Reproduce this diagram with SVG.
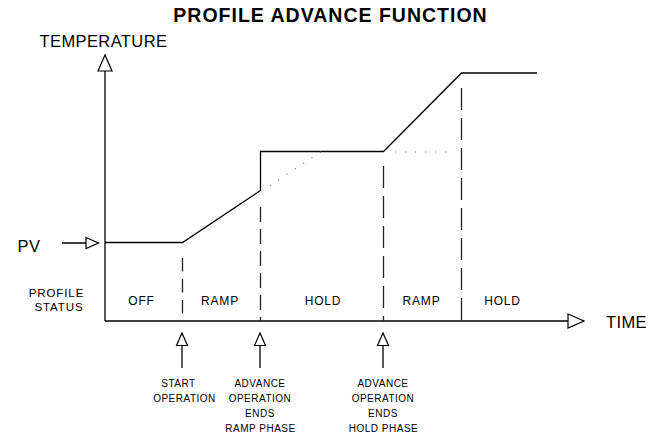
<svg xmlns="http://www.w3.org/2000/svg" width="652" height="439" viewBox="0 0 652 439">
<style>
text{font-family:"Liberation Sans",Arial,sans-serif;fill:#000}
.title{font-size:19.5px;font-weight:bold;letter-spacing:1px}
.axis{font-size:16.5px;letter-spacing:0.4px}
.zone{font-size:12px;letter-spacing:0.8px}
.stat{font-size:11.5px;letter-spacing:0.9px}
.ev{font-size:10px;letter-spacing:0.5px}
.ln{fill:none;stroke:#000;stroke-width:1.3}
.dash{fill:none;stroke:#222;stroke-width:1.3}
.dot{fill:none;stroke:#666;stroke-width:1.2;stroke-dasharray:1 9}
</style>
<defs>
<marker id="big" markerUnits="userSpaceOnUse" viewBox="-1 -1 18 16" markerWidth="18" markerHeight="16" refX="16" refY="7" orient="auto" overflow="visible">
<path d="M0,0 L16,7 L0,14 Z" fill="#fff" stroke="#000" stroke-width="1.2"/>
</marker>
<marker id="small" markerUnits="userSpaceOnUse" viewBox="-1 -1 14 13" markerWidth="14" markerHeight="13" refX="12.5" refY="5.5" orient="auto" overflow="visible">
<path d="M0,0 L12.5,5.5 L0,11 Z" fill="#fff" stroke="#000" stroke-width="1.2"/>
</marker>
</defs>
<rect width="652" height="439" fill="#fff"/>
<g id="title"><text class="title" x="330.5" y="22" text-anchor="middle">PROFILE ADVANCE FUNCTION</text></g>
<g id="connectors">
<line class="ln" x1="105" y1="321" x2="105" y2="55" marker-end="url(#big)"/>
<line class="ln" x1="105" y1="321" x2="584" y2="321" marker-end="url(#big)"/>
<line class="ln" x1="62" y1="243" x2="98.5" y2="243" marker-end="url(#small)"/>
<line class="ln" x1="182" y1="368" x2="182" y2="333" marker-end="url(#small)"/>
<line class="ln" x1="260" y1="368" x2="260" y2="333" marker-end="url(#small)"/>
<line class="ln" x1="383" y1="368" x2="383" y2="333" marker-end="url(#small)"/>
</g>
<g id="profile">
<polyline class="ln" points="105,242.5 182.5,242.5 260.5,190.5 260.5,151.5 383.5,151.5 461.5,73 537,73"/>
<line class="dot" x1="270" y1="185.7" x2="321" y2="151.7"/>
<line class="dot" x1="395" y1="152" x2="447" y2="152"/>
</g>
<g id="phase-lines">
<line class="dash" x1="182.5" y1="258" x2="182.5" y2="321" stroke-dasharray="13.5 7.5"/>
<line class="dash" x1="260.5" y1="207" x2="260.5" y2="321" stroke-dasharray="15 7"/>
<line class="dash" x1="383.5" y1="166" x2="383.5" y2="321" stroke-dasharray="22 8"/>
<line class="dash" x1="461.5" y1="88" x2="461.5" y2="321" stroke-dasharray="22 8"/>
</g>
<g id="axis-labels">
<text class="axis" x="39.5" y="46.5">TEMPERATURE</text>
<text class="axis" x="606" y="327.5">TIME</text>
<text class="axis" x="17.5" y="251.5">PV</text>
</g>
<g id="profile-status">
<text class="stat" x="56.5" y="296.5" text-anchor="middle">PROFILE</text>
<text class="stat" x="59" y="310.5" text-anchor="middle">STATUS</text>
</g>
<g id="zone-off"><text class="zone" x="141.5" y="304.5" text-anchor="middle">OFF</text></g>
<g id="zone-ramp1"><text class="zone" x="220" y="304.5" text-anchor="middle">RAMP</text></g>
<g id="zone-hold1"><text class="zone" x="323" y="304.5" text-anchor="middle">HOLD</text></g>
<g id="zone-ramp2"><text class="zone" x="421.5" y="304.5" text-anchor="middle">RAMP</text></g>
<g id="zone-hold2"><text class="zone" x="502.5" y="304.5" text-anchor="middle">HOLD</text></g>
<g id="event-start">
<text class="ev" x="178.5" y="387" text-anchor="middle">START</text>
<text class="ev" x="184.5" y="402" text-anchor="middle">OPERATION</text>
</g>
<g id="event-advance-ramp">
<text class="ev" x="260" y="387" text-anchor="middle">ADVANCE</text>
<text class="ev" x="260" y="402" text-anchor="middle">OPERATION</text>
<text class="ev" x="260" y="417" text-anchor="middle">ENDS</text>
<text class="ev" x="260.5" y="432" text-anchor="middle">RAMP PHASE</text>
</g>
<g id="event-advance-hold">
<text class="ev" x="383" y="387" text-anchor="middle">ADVANCE</text>
<text class="ev" x="383" y="402" text-anchor="middle">OPERATION</text>
<text class="ev" x="383" y="417" text-anchor="middle">ENDS</text>
<text class="ev" x="383.5" y="432" text-anchor="middle">HOLD PHASE</text>
</g>
</svg>
